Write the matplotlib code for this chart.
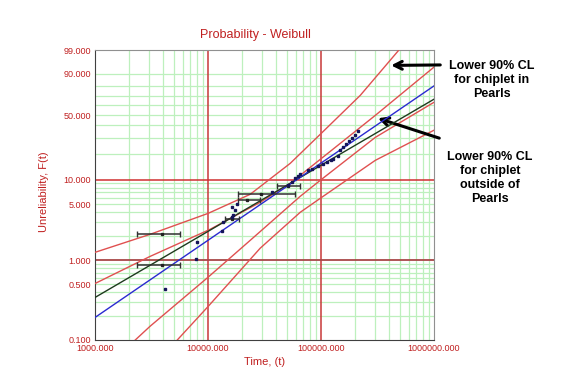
import numpy as np
import matplotlib
matplotlib.use('Agg')
from matplotlib import pyplot as plt

# fitted lines (time, unreliability %)
blue_t, blue_f = [1000, 1e6], [0.19, 80.0]
black_t, black_f = [1000, 1e6], [0.34, 66.5]

# confidence bounds
r1_t = [1000, 3073, 10040, 23660, 53550, 100800, 223500, 485600]
r1_f = [1.26, 2.12, 3.87, 6.64, 15.58, 33.36, 70.7, 98.9]
r2_t = [1000, 3073, 10460, 29030, 53550, 98800, 303600, 1e6]
r2_f = [0.51, 1.12, 2.45, 5.30, 9.03, 17.33, 49.6, 93.8]
r3_t = [2262, 3073, 10000, 23660, 65700, 98800, 303600, 1e6]
r3_f = [0.098, 0.147, 0.61, 1.78, 6.28, 9.81, 30.3, 63.2]
r4_t = [5333, 10000, 29030, 65700, 98800, 303600, 1e6]
r4_f = [0.098, 0.26, 1.42, 3.99, 5.93, 16.88, 35.8]

# failure points
pt_t = [13280, 37080, 51400, 55780, 59300, 63050, 65700, 77300, 83900, 94800,
        105000, 114000, 123700, 128800, 142600, 148600, 158000, 168000,
        178600, 189800, 201800, 214600,
        4175, 7975, 7810, 13640, 16290, 16830, 17420, 18040, 16390]
pt_f = [2.31, 7.12, 8.54, 9.28, 10.37, 10.95, 11.57, 12.91, 13.26, 14.38,
        15.18, 16.01, 16.88, 17.67, 18.76, 21.92, 23.67, 25.52,
        27.48, 29.60, 31.81, 34.98,
        0.44, 1.70, 1.05, 3.02, 3.49, 3.66, 4.30, 5.10, 4.59]

# interval data (center, low, high, F%)
iv_t = [3900, 3900, 16390, 22130, 29620, 51400]
iv_lo = [2371, 2371, 14210, 18640, 18640, 40810]
iv_hi = [5670, 5670, 18910, 29030, 58470, 65700]
iv_f = [2.16, 0.88, 3.31, 5.72, 6.64, 8.38]

yticks = [0.1, 0.5, 1, 5, 10, 50, 90, 99]
xticks = [1000, 10000, 100000, 1000000]


def fwd(p):
    p = np.clip(np.asarray(p, dtype=float), 1e-6, 99.99999)
    return np.log(-np.log(1 - p / 100.0))


def inv(w):
    return 100.0 * (1 - np.exp(-np.exp(w)))


fig = plt.figure(figsize=(5.68, 3.91), dpi=100)
ax = fig.add_axes([0.1673, 0.1317, 0.5963, 0.7404])
ax.set_xscale('log')
ax.set_yscale('function', functions=(fwd, inv))
ax.set_xlim(1000, 1e6)
ax.set_ylim(0.1, 99)

grn = '#bdf0bd'
for d in [1000, 10000, 100000]:
    for m in range(2, 10):
        ax.axvline(d * m, color=grn, lw=0.9, zorder=1)
for v in [0.2, 0.3, 0.4, 0.5, 0.6, 0.7, 0.8, 0.9, 2, 3, 4, 5, 6, 7, 8, 9,
          20, 30, 40, 50, 60, 70, 80, 90]:
    ax.axhline(v, color=grn, lw=0.9, zorder=1)
ax.axvline(10000, color='#c83838', lw=1.1, zorder=2)
ax.axvline(100000, color='#c83838', lw=1.1, zorder=2)
ax.axhline(1, color='#a84848', lw=1.3, zorder=2)
ax.axhline(10, color='#d03030', lw=1.1, zorder=2)

red = '#e05050'
for t, f in [(r1_t, r1_f), (r2_t, r2_f), (r3_t, r3_f), (r4_t, r4_f)]:
    ax.plot(t, f, color=red, lw=1.0, zorder=3)
ax.plot(black_t, black_f, color='#1e3a1e', lw=1.0, zorder=4)
ax.plot(blue_t, blue_f, color='#2a2ad0', lw=1.0, zorder=4)

xe = [np.array(iv_t) - np.array(iv_lo), np.array(iv_hi) - np.array(iv_t)]
ax.errorbar(iv_t, iv_f, xerr=xe, fmt='s', ms=1.6, color='#222222',
            ecolor='#303030', elinewidth=1.1, capsize=2, capthick=1, zorder=5)
ax.plot(pt_t, pt_f, 's', ms=1.7, color='#15155a', zorder=6)

ax.set_yticks(yticks)
ax.set_yticklabels(['%.3f' % v for v in yticks])
ax.set_xticks(xticks)
ax.set_xticklabels(['%.3f' % v for v in xticks])
ax.minorticks_off()
ax.yaxis.set_minor_locator(matplotlib.ticker.NullLocator())
ax.xaxis.set_minor_locator(matplotlib.ticker.NullLocator())
ax.tick_params(length=0, labelsize=6.5, labelcolor='#c02020', pad=3)
for lab in ax.get_xticklabels() + ax.get_yticklabels():
    lab.set_family(['Liberation Sans Narrow', 'Liberation Sans'])
for s in ['left', 'bottom']:
    ax.spines[s].set_color('#404040')
for s in ['top', 'right']:
    ax.spines[s].set_color('#909090')

nf = ['Liberation Sans Narrow', 'Liberation Sans']
fig.text(0.449, 0.91, 'Probability - Weibull', color='#c02020', fontsize=9,
         family=nf, ha='center', va='center')
fig.text(0.078, 0.51, 'Unreliability, F(t)', color='#c02020', fontsize=8,
         family=nf, rotation=90, ha='center', va='center')
fig.text(0.466, 0.074, 'Time, (t)', color='#c02020', fontsize=8,
         family=nf, ha='center', va='center')

fig.text(0.866, 0.796, 'Lower 90% CL\nfor chiplet in\nPearls', fontsize=9,
         fontweight='bold', family='Liberation Sans', ha='center',
         va='center', linespacing=1.25)
fig.text(0.863, 0.545, 'Lower 90% CL\nfor chiplet\noutside of\nPearls',
         fontsize=9, fontweight='bold', family='Liberation Sans',
         ha='center', va='center', linespacing=1.25)
ax.annotate('', xy=(395900, 94.7), xycoords='data',
            xytext=(0.780, 0.834), textcoords='figure fraction',
            arrowprops=dict(arrowstyle='->', lw=2.2, color='black',
                            mutation_scale=14), annotation_clip=False)
ax.annotate('', xy=(303600, 47.6), xycoords='data',
            xytext=(0.778, 0.6445), textcoords='figure fraction',
            arrowprops=dict(arrowstyle='->', lw=2.2, color='black',
                            mutation_scale=14), annotation_clip=False)

fig.savefig('out.png', dpi=100)
